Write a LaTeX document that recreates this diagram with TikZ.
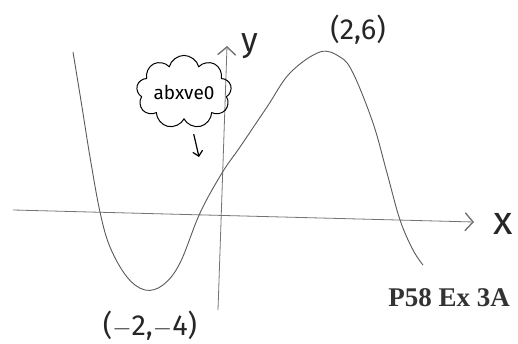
\documentclass[tikz,border=0pt]{standalone}
\usepackage{fontspec}
\setmainfont{Liberation Serif}
\newfontfamily\maofont{Fira Sans}
\usetikzlibrary{arrows.meta,shapes.symbols,positioning}
\tikzset{
    eixo/.style={
        draw=black!55,
        line width=0.8pt,
        -{Straight Barb[length=8pt,width=18pt,line width=1.4pt]}
    },
    curva/.style={draw=black!65, line width=0.9pt},
    rotulo/.style={font=\maofont\fontsize{29}{31}\selectfont, text=black!85, inner sep=1pt},
    nuvem/.style={
        cloud,
        draw,
        cloud puffs=9,
        aspect=1.6,
        line width=1pt,
        minimum width=92pt,
        minimum height=58pt,
        inner sep=0pt,
        shape border rotate=12,
        font=\maofont\fontsize{19}{21}\selectfont
    },
    seta/.style={-{Straight Barb[length=5pt,width=10pt]}, line width=1.2pt},
    titulo/.style={font=\bfseries\fontsize{27}{29}\selectfont, text=black!80}
}

\begin{document}
\begin{tikzpicture}[x=1pt, y=-1pt]
    \useasboundingbox (0,0) rectangle (518,344);

    % eixos
    \coordinate (xini) at (13,210);
    \coordinate (xfim) at (474,222);
    \coordinate (yini) at (218,310);
    \coordinate (yfim) at (227,46);
    \draw[eixo] (xini) -- (xfim);
    \draw[eixo] (yini) -- (yfim);
    \node[rotulo, font=\maofont\fontsize{40}{42}\selectfont] (xlab) at (503,224) {x};
    \node[rotulo, font=\maofont\fontsize{34}{36}\selectfont] (ylab) at (250,46) {y};

    % grafico
    \draw[curva] plot[smooth, tension=0.6] coordinates {
        (73,52) (82,107) (90,157) (100,212) (110,247) (127,277) (145,290)
        (163,285) (180,263) (200,213) (222,173) (240,147) (267,107)
        (290,73) (320,52) (340,57) (353,73) (373,123) (387,173)
        (400,220) (413,250) (423,265)};

    \node[rotulo] (max) at (358,30) {(2,6)};
    \node[rotulo] (min) at (150,326) {($-$2,$-$4)};

    \node[nuvem] (nota) at (184,92) {abxve0};
    \coordinate (alvo) at (199,157);
    \draw[seta, shorten <=8pt] (nota) -- (alvo);

    \node[titulo] (ref) at (449,298) {P58 Ex 3A};
\end{tikzpicture}
\end{document}
